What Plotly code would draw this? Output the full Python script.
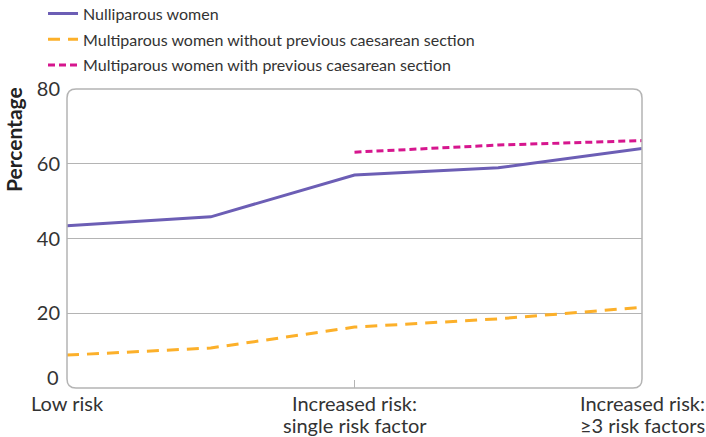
import plotly.graph_objects as go

x_pos = [0, 1, 2, 3, 4]
tick_vals = [2]
label_x = [0, 2, 4]
label_line1 = ["Low risk", "Increased risk:", "Increased risk:"]
label_line2 = ["", "single risk factor", "≥3 risk factors"]
y_ticks = [20, 40, 60, 80]
nulliparous = [43.4, 45.8, 57.0, 58.9, 64.1]
multi_without = [8.8, 10.7, 16.3, 18.5, 21.6]
multi_with = [None, None, 63.1, 65.0, 66.2]

font = "Lato"
txt = "#333333"
fig = go.Figure()
fig.add_trace(go.Scatter(x=x_pos, y=nulliparous, mode="lines", name="Nulliparous women",
                         legendgroup="a", line=dict(color="#6c5eb5", width=3)))
fig.add_trace(go.Scatter(x=x_pos, y=multi_without, mode="lines",
                         name="Multiparous women without previous caesarean section",
                         legendgroup="b", line=dict(color="#fcb02a", width=3, dash="12px,8px")))
fig.add_trace(go.Scatter(x=x_pos, y=multi_with, mode="lines",
                         name="Multiparous women with previous caesarean section",
                         legendgroup="c", line=dict(color="#d6168e", width=3, dash="7px,4px")))

W, H = 575.0, 299.0
r = 9.0
rx, ry = r / W, r / H
path = (f"M {rx},0 L {1-rx},0 Q 1,0 1,{ry} L 1,{1-ry} Q 1,1 {1-rx},1 "
        f"L {rx},1 Q 0,1 0,{1-ry} L 0,{ry} Q 0,0 {rx},0 Z")
fig.add_shape(type="path", path=path, xref="paper", yref="paper",
              line=dict(color="#b4b4b4", width=1.5), layer="above")

fig.add_annotation(text="<b>Percentage</b>", textangle=-90, xref="paper", yref="paper",
                   x=(13.5 - 67) / W, y=1 + 4 / H, xanchor="center", yanchor="top",
                   showarrow=False, font=dict(family=font, size=21, color="#222222"))

# the zero label sits just above the baseline in the reference
fig.add_annotation(text="0", xref="paper", yref="y", x=(61 - 67) / W, y=0,
                   xanchor="right", yanchor="bottom", yshift=-3, showarrow=False,
                   font=dict(family=font, size=20, color=txt))

for xv, l1, l2 in zip(label_x, label_line1, label_line2):
    fig.add_annotation(text=l1, x=xv, xref="x", y=(388 - 403) / H, yref="paper",
                       xanchor="center", yanchor="middle", showarrow=False,
                       font=dict(family=font, size=20, color=txt))
    if l2:
        fig.add_annotation(text=l2, x=xv, xref="x", y=(388 - 425) / H, yref="paper",
                           xanchor="center", yanchor="middle", showarrow=False,
                           font=dict(family=font, size=20, color=txt))

fig.update_layout(
    width=706, height=437,
    margin=dict(l=67, r=64, t=89, b=49, autoexpand=False),
    paper_bgcolor="white", plot_bgcolor="white",
    font=dict(family=font, size=16, color=txt),
    showlegend=True,
    legend=dict(x=-0.0417, y=1.309, xanchor="left", yanchor="top", orientation="v",
                font=dict(family=font, size=16, color=txt), itemwidth=30,
                tracegroupgap=2, bgcolor="rgba(0,0,0,0)"),
    xaxis=dict(range=[0, 4], tickvals=tick_vals, showticklabels=False, showgrid=False,
               zeroline=False, ticks="inside", ticklen=8, tickcolor="#b4b4b4",
               showline=False, automargin=False),
    yaxis=dict(range=[0, 80], tickvals=y_ticks, showgrid=True,
               gridcolor="#b4b4b4", gridwidth=1.2, zeroline=False, showline=False,
               automargin=False,
               tickfont=dict(family=font, size=20, color=txt), ticks="", ticklabelstandoff=6),
)
fig.write_html("out.html", config={"displayModeBar": False},
               post_script="document.body.style.margin='0';")
